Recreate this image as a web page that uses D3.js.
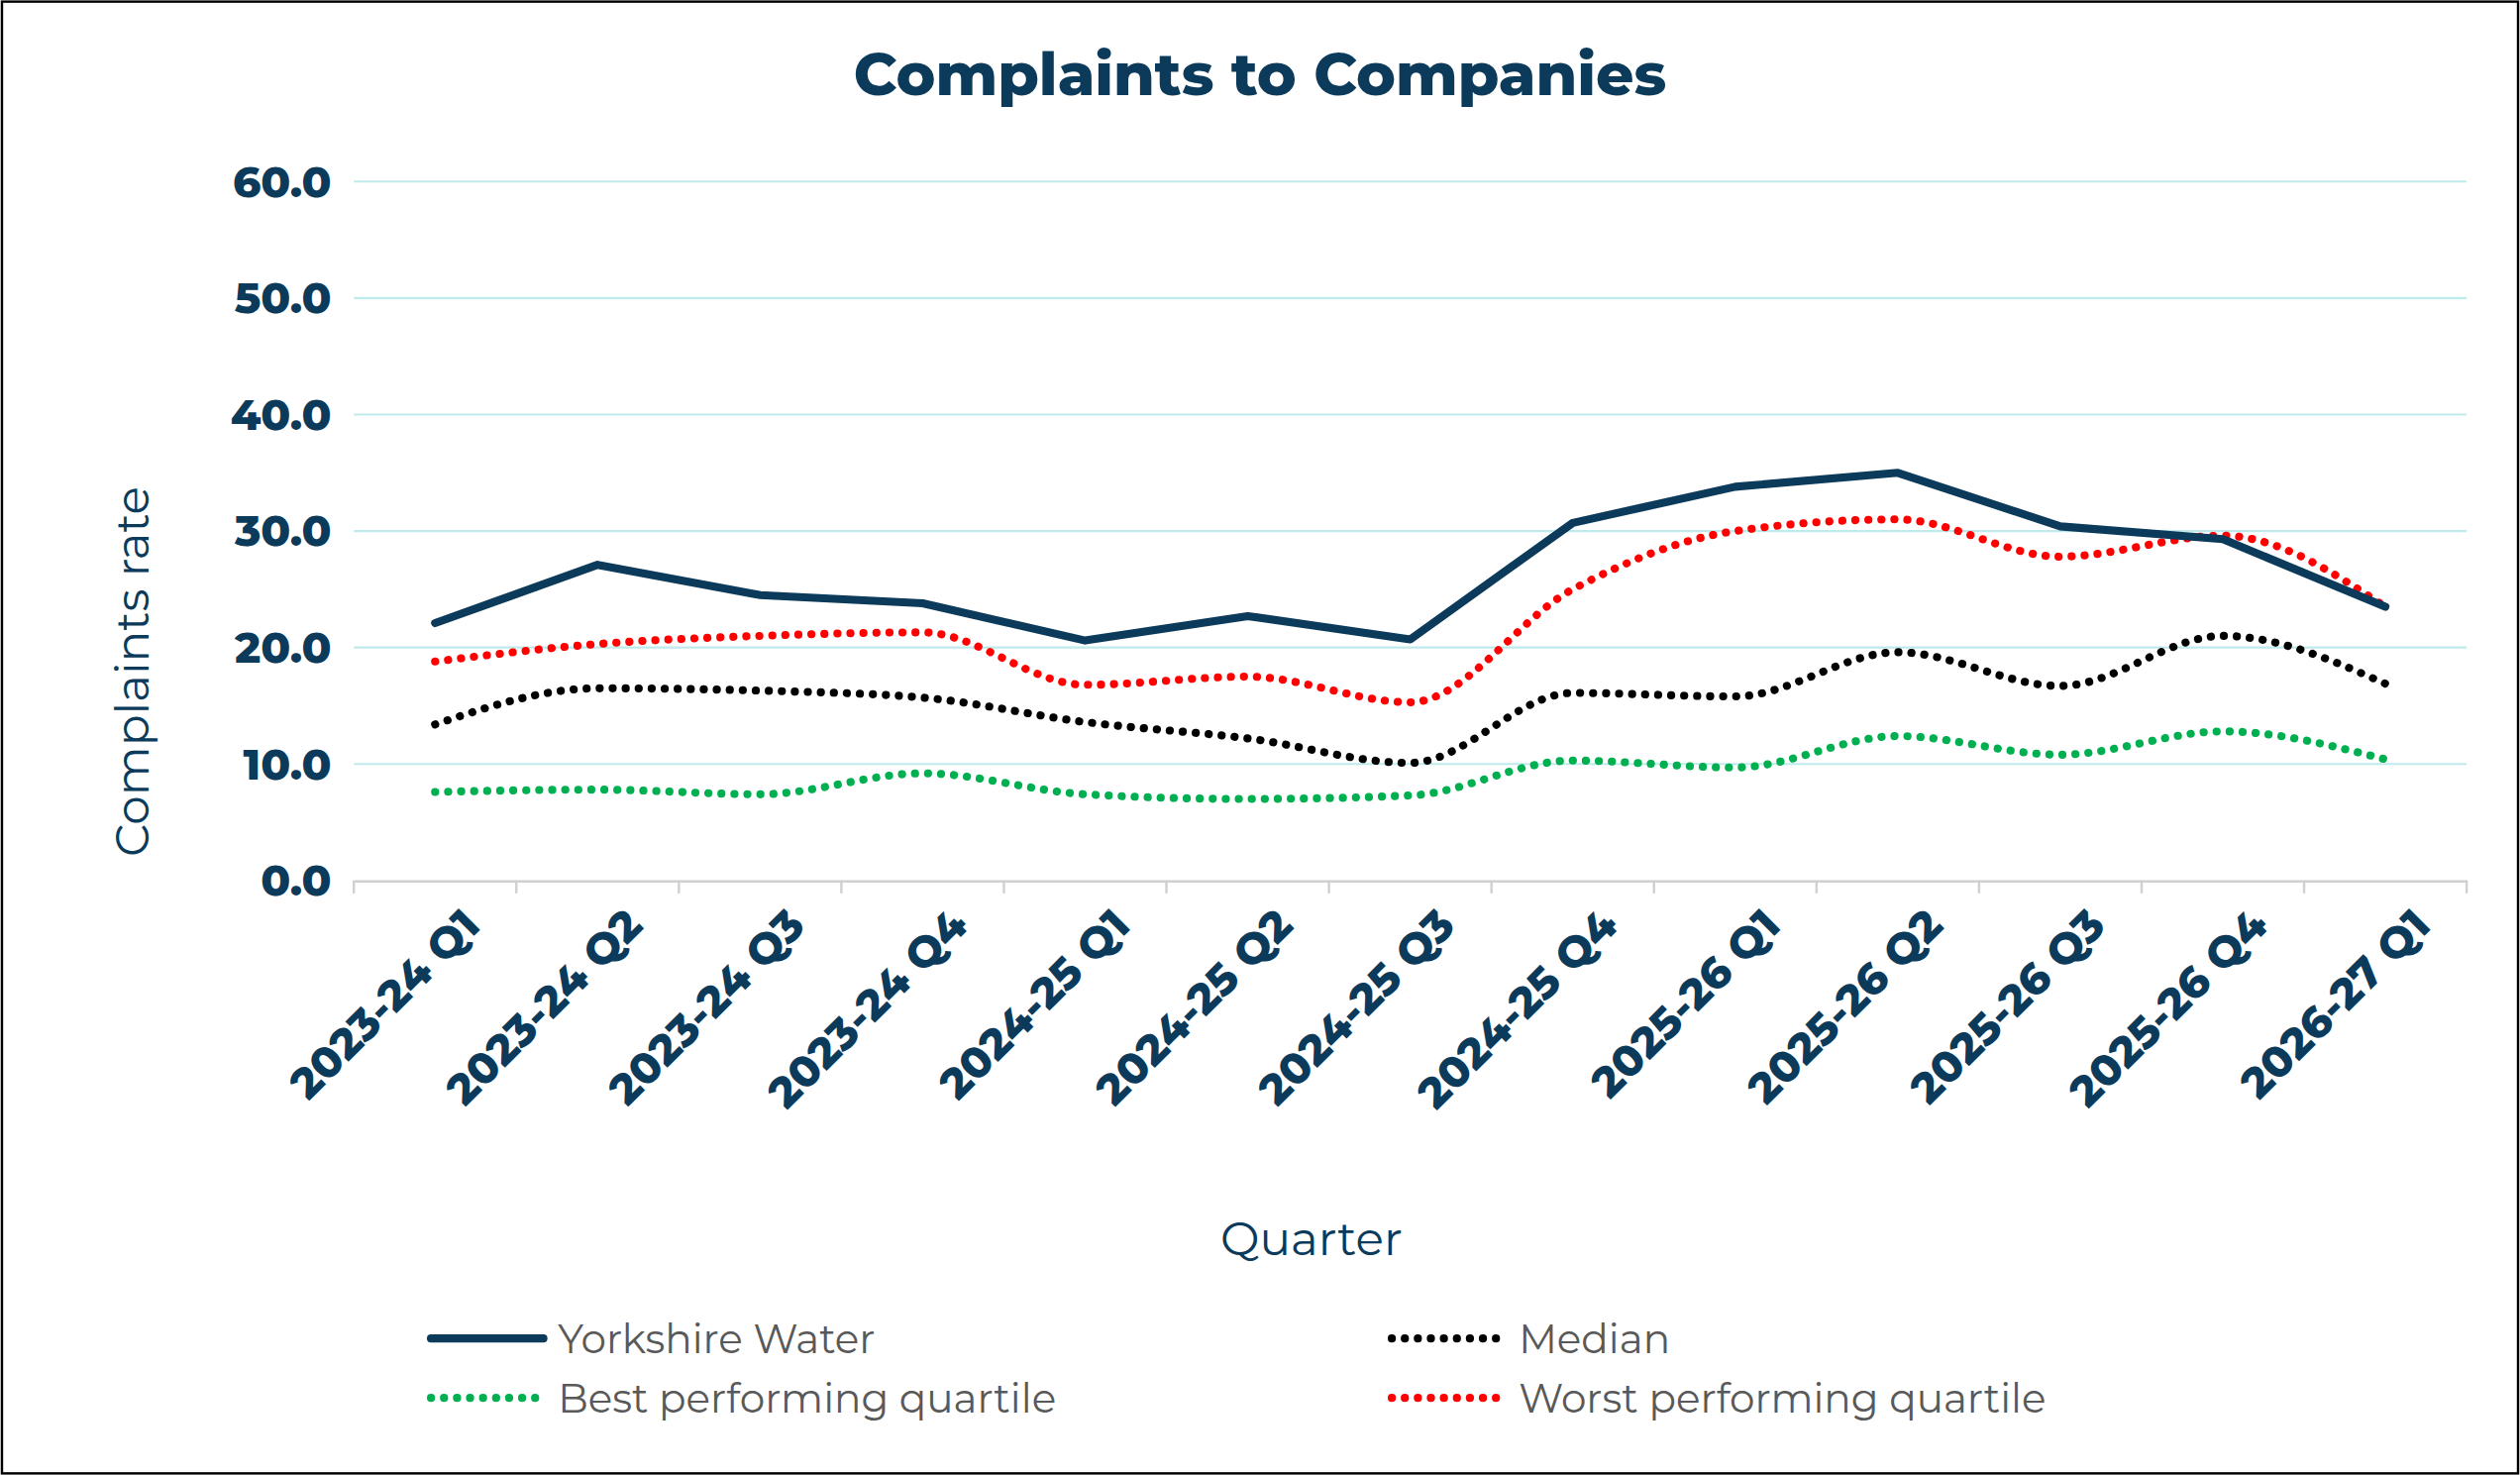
<!DOCTYPE html>
<html><head><meta charset="utf-8">
<script src="https://cdn.jsdelivr.net/npm/d3@7"></script>
<style>html,body{margin:0;padding:0;background:#fff}</style>
</head><body>
<svg id="c" width="2544" height="1489" viewBox="0 0 1568 918"></svg>
<script>
const categories=["2023-24 Q1","2023-24 Q2","2023-24 Q3","2023-24 Q4","2024-25 Q1","2024-25 Q2","2024-25 Q3","2024-25 Q4","2025-26 Q1","2025-26 Q2","2025-26 Q3","2025-26 Q4","2026-27 Q1"];
const yorkshire=[22.1,27.1,24.5,23.8,20.6,22.7,20.7,30.7,33.8,35.0,30.4,29.3,23.5];
const median=[13.4,16.5,16.3,15.7,13.6,12.2,10.1,16.1,15.8,19.6,16.7,21.0,16.9];
const best=[7.6,7.8,7.4,9.2,7.4,7.0,7.3,10.3,9.7,12.4,10.8,12.8,10.4];
const worst=[18.8,20.3,21.0,21.3,16.8,17.5,15.3,25.0,30.0,31.0,27.8,29.6,23.5];
const yTicks=[0,10,20,30,40,50,60];

const navy="#0b3a5a", font="Montserrat, 'Noto Sans', sans-serif";
const svg=d3.select("#c");
svg.append("rect").attr("x",1).attr("y",1).attr("width",1566).attr("height",916).attr("fill","#fff").attr("stroke","#000").attr("stroke-width",1.5);
svg.append("text").attr("x",784).attr("y",59).attr("text-anchor","middle").attr("font-family",font).attr("font-weight",800).attr("font-size",37).attr("fill",navy).text("Complaints to Companies");

const x=d3.scaleBand().domain(categories).range([220,1535]);
const y=d3.scaleLinear().domain([0,60]).range([548,113]);

svg.append("g").selectAll("line").data(yTicks.slice(1)).join("line")
 .attr("x1",220).attr("x2",1535).attr("y1",d=>y(d)).attr("y2",d=>y(d)).attr("stroke","#bfeaec").attr("stroke-width",1.3);
svg.append("g").selectAll("text").data(yTicks).join("text")
 .attr("x",206).attr("y",d=>y(d)+9.5).attr("text-anchor","end").attr("font-family",font).attr("font-weight",800).attr("font-size",27).attr("fill",navy).text(d=>d.toFixed(1));

const xa=svg.append("g").attr("transform","translate(0,548)").call(d3.axisBottom(x).tickSize(0).tickFormat(""));
xa.select(".domain").attr("stroke","#d0d0d0").attr("stroke-width",1.5);
const edges=d3.range(categories.length+1).map(i=>x.range()[0]+i*x.step());
svg.append("g").selectAll("line").data(edges).join("line").attr("x1",d=>d).attr("x2",d=>d).attr("y1",548).attr("y2",556).attr("stroke","#d0d0d0").attr("stroke-width",1.5);
svg.append("g").selectAll("text").data(categories).join("text")
 .attr("transform",d=>`translate(${x(d)+x.bandwidth()/2+16},564) rotate(-45)`).attr("text-anchor","end").attr("dy","0.7em")
 .attr("font-family",font).attr("font-weight",800).attr("font-size",27).attr("fill",navy).text(d=>d);

svg.append("text").attr("transform","translate(92,418) rotate(-90)").attr("text-anchor","middle").attr("font-family",font).attr("font-size",29).attr("fill",navy).text("Complaints rate");
svg.append("text").attr("x",816).attr("y",781).attr("text-anchor","middle").attr("font-family",font).attr("font-size",29).attr("fill",navy).text("Quarter");

const cx=(d,i)=>x(categories[i])+x.bandwidth()/2;
const series=[
 {name:"Best performing quartile",data:best,color:"#00b050",dash:"0.1 8",w:5,curve:d3.curveMonotoneX,lx:268,ly:870},
 {name:"Median",data:median,color:"#000",dash:"0.1 8",w:5,curve:d3.curveMonotoneX,lx:866,ly:833},
 {name:"Worst performing quartile",data:worst,color:"#ff0000",dash:"0.1 8",w:5,curve:d3.curveMonotoneX,lx:866,ly:870},
 {name:"Yorkshire Water",data:yorkshire,color:navy,dash:null,w:5,curve:d3.curveLinear,lx:268,ly:833}
];
series.forEach(s=>{
 const line=d3.line().x(cx).y(d=>y(d)).curve(s.curve);
 svg.append("path").datum(s.data).attr("d",line).attr("fill","none").attr("stroke",s.color).attr("stroke-width",s.w)
  .attr("stroke-linecap","round").attr("stroke-linejoin","round").attr("stroke-dasharray",s.dash);
 svg.append("line").attr("x1",s.lx).attr("x2",s.lx+70).attr("y1",s.ly).attr("y2",s.ly).attr("stroke",s.color).attr("stroke-width",s.w)
  .attr("stroke-linecap","round").attr("stroke-dasharray",s.dash);
 svg.append("text").attr("x",s.lx+79).attr("y",s.ly+9).attr("font-family",font).attr("font-size",25).attr("fill","#595959").text(s.name);
});
</script>
</body></html>
